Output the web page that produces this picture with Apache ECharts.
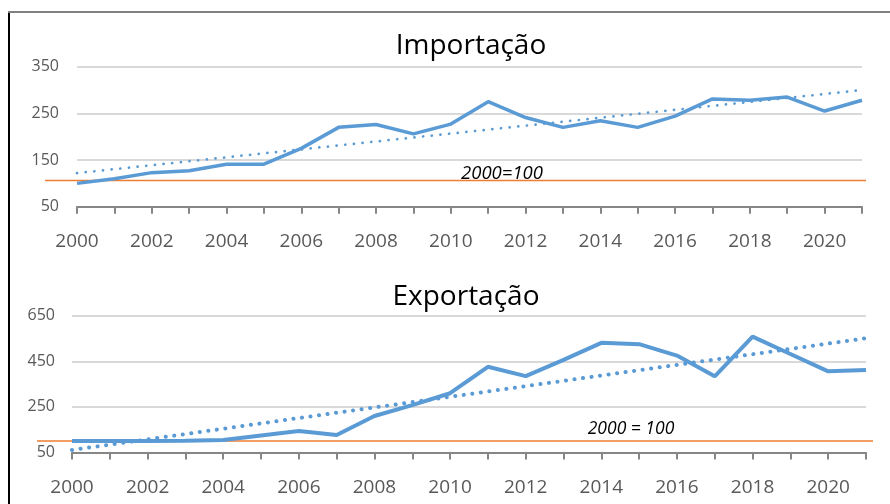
<!DOCTYPE html>
<html>
<head>
<meta charset="utf-8">
<script src="https://cdn.jsdelivr.net/npm/echarts@6/dist/echarts.min.js"></script>
<style>
html,body{margin:0;padding:0;background:#fff;}
#main{width:890px;height:504px;}
</style>
</head>
<body>
<div id="main"></div>
<script>
var years = ['2000','2001','2002','2003','2004','2005','2006','2007','2008','2009','2010','2011','2012','2013','2014','2015','2016','2017','2018','2019','2020','2021'];
var importValues = [100,110,123,127,141,141,175,220,226,206,227,275,241,220,234,220,244,281,278,285,255,278];
var exportValues = [100,100,100,101,105,125,144,127,210,258,310,426,385,456,531,525,475,384,558,482,406,412];
var trendYears = ['2000','2021'];
var importTrend = [122,300];
var exportTrend = [61,551];
var importBase = 106;
var exportBase = 100;
var titles = ['Importação','Exportação'];
var baseLabels = ['2000=100','2000 = 100'];

var FONT = 'Open Sans';
var BLUE = '#5b9bd5';
var ORANGE = '#ed7d31';

function pairs(xs, ys){ return xs.map(function(x,i){ return [x, ys[i]]; }); }

var chart = echarts.init(document.getElementById('main'));

function catAxis(gi, margin){
  return {
    type:'category', gridIndex:gi, data:years, boundaryGap:false,
    axisLine:{show:true, lineStyle:{color:'#868686', width:2}},
    axisTick:{show:true, interval:0, length:7, lineStyle:{color:'#868686', width:2}},
    axisLabel:{interval:1, margin:margin, color:'#595959', fontFamily:FONT, fontSize:19},
    splitLine:{show:false}
  };
}
function valAxis(gi, min, max, interval, margin){
  return {
    type:'value', gridIndex:gi, min:min, max:max, interval:interval,
    axisLine:{show:false}, axisTick:{show:false},
    axisLabel:{margin:margin, color:'#595959', fontFamily:FONT, fontSize:16},
    splitLine:{show:true, lineStyle:{color:'#d9d9d9', width:2}}
  };
}
function hiddenX(gi){ return {type:'value', gridIndex:gi, min:0, max:1, show:false}; }
function hiddenY(gi, min, max){ return {type:'value', gridIndex:gi, min:min, max:max, show:false}; }

var option = {
  animation:false,
  backgroundColor:'#fff',
  title:[
    {text:titles[0], left:466, top:27, textAlign:'center', textStyle:{fontFamily:FONT, fontSize:28, fontWeight:'normal', color:'#000'}},
    {text:titles[1], left:461, top:278, textAlign:'center', textStyle:{fontFamily:FONT, fontSize:28, fontWeight:'normal', color:'#000'}},
    {text:baseLabels[0], left:497, top:159, textAlign:'center', textStyle:{fontFamily:FONT, fontSize:18.5, fontStyle:'italic', fontWeight:'normal', color:'#000'}},
    {text:baseLabels[1], left:626, top:415, textAlign:'center', textStyle:{fontFamily:FONT, fontSize:17.5, fontStyle:'italic', fontWeight:'normal', color:'#000'}}
  ],
  graphic:[
    {type:'line', shape:{x1:9, y1:12, x2:9, y2:504}, style:{stroke:'#000', lineWidth:2}},
    {type:'line', shape:{x1:8, y1:12, x2:890, y2:12}, style:{stroke:'#808080', lineWidth:2}}
  ],
  grid:[
    {left:77, right:28, top:66.7, bottom:297.3},
    {left:72, right:24, top:315.7, bottom:51.5},
    {left:45, right:24, top:66.7, bottom:297.3},
    {left:37, right:17, top:315.7, bottom:51.5}
  ],
  xAxis:[ catAxis(0, 25), catAxis(1, 26), hiddenX(2), hiddenX(3) ],
  yAxis:[ valAxis(0, 50, 350, 100, 18), valAxis(1, 50, 650, 200, 17), hiddenY(2, 50, 350), hiddenY(3, 50, 650) ],
  series:[
    {type:'line', xAxisIndex:2, yAxisIndex:2, data:[[0,importBase],[1,importBase]], symbol:'none', lineStyle:{color:ORANGE, width:1.5}, z:1},
    {type:'line', xAxisIndex:3, yAxisIndex:3, data:[[0,exportBase],[1,exportBase]], symbol:'none', lineStyle:{color:ORANGE, width:1.5}, z:1},
    {type:'line', xAxisIndex:0, yAxisIndex:0, data:importValues, symbol:'none', lineStyle:{color:BLUE, width:3.5}, z:3},
    {type:'line', xAxisIndex:1, yAxisIndex:1, data:exportValues, symbol:'none', lineStyle:{color:BLUE, width:4}, z:3},
    {type:'line', xAxisIndex:0, yAxisIndex:0, data:pairs(trendYears, importTrend), symbol:'none', lineStyle:{color:BLUE, width:2.7, type:[0.1, 8.6], cap:'round'}, z:2},
    {type:'line', xAxisIndex:1, yAxisIndex:1, data:pairs(trendYears, exportTrend), symbol:'none', lineStyle:{color:BLUE, width:4, type:[0.1, 8.5], cap:'round'}, z:2}
  ]
};
chart.setOption(option);
</script>
</body>
</html>
